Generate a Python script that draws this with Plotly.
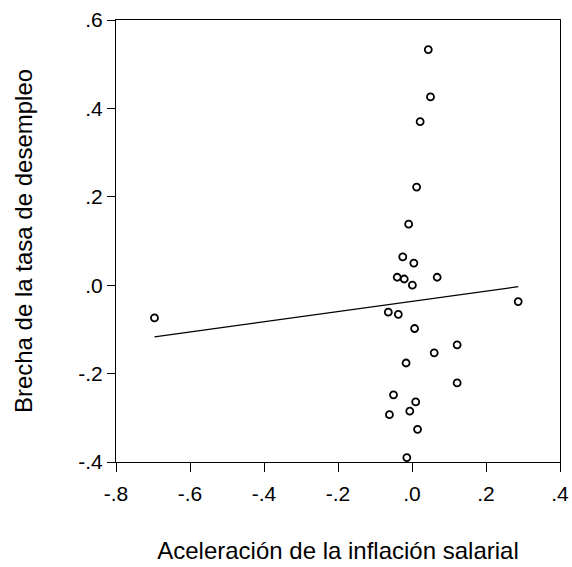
import numpy as np
import plotly.graph_objects as go

# Data
inflation_accel = [0.044, 0.050, 0.022, 0.0125, -0.009, -0.025, 0.005, -0.040, -0.021,
                   0.001, 0.068, 0.287, -0.696, -0.064, -0.037, 0.007, 0.122, 0.060,
                   -0.016, 0.122, -0.050, 0.010, -0.006, -0.061, 0.015, -0.014]
unemp_gap = [0.533, 0.426, 0.370, 0.222, 0.138, 0.064, 0.050, 0.018, 0.014,
             0.000, 0.018, -0.037, -0.074, -0.061, -0.066, -0.098, -0.135, -0.153,
             -0.176, -0.221, -0.248, -0.264, -0.285, -0.293, -0.326, -0.390]

x_tickvals = [-0.8, -0.6, -0.4, -0.2, 0.0, 0.2, 0.4]
x_ticktext = ["-.8", "-.6", "-.4", "-.2", ".0", ".2", ".4"]
y_tickvals = [-0.4, -0.2, 0.0, 0.2, 0.4, 0.6]
y_ticktext = ["-.4", "-.2", ".0", ".2", ".4", ".6"]

x = np.array(inflation_accel)
y = np.array(unemp_gap)
slope, intercept = np.polyfit(x, y, 1)
fit_x = np.array([x.min(), x.max()])
fit_y = intercept + slope * fit_x

fig = go.Figure()
fig.add_trace(go.Scatter(
    x=inflation_accel, y=unemp_gap, mode="markers",
    marker=dict(symbol="circle-open", size=7, color="black", line=dict(width=1.8, color="black")),
    showlegend=False, hoverinfo="x+y"))
fig.add_trace(go.Scatter(
    x=fit_x, y=fit_y, mode="lines",
    line=dict(color="black", width=1.3), showlegend=False))

font_family = "Liberation Sans, Arial, sans-serif"
fig.update_layout(
    width=572, height=567,
    margin=dict(l=116, r=12, t=20, b=105),
    paper_bgcolor="white", plot_bgcolor="white",
    font=dict(family=font_family, size=21, color="black"),
    xaxis=dict(
        range=[-0.8, 0.4], tickvals=x_tickvals, ticktext=x_ticktext,
        showgrid=False, zeroline=False, showline=True, linecolor="black", linewidth=1,
        mirror=True, ticks="outside", ticklen=9, tickwidth=1, tickcolor="black",
        tickfont=dict(size=21), automargin=False, ticklabelstandoff=4,
        title=dict(text="Aceleración de la inflación salarial", font=dict(size=24), standoff=37),
    ),
    yaxis=dict(
        range=[-0.4, 0.6], tickvals=y_tickvals, ticktext=y_ticktext,
        showgrid=False, zeroline=False, showline=True, linecolor="black", linewidth=1,
        mirror=True, ticks="outside", ticklen=8, tickwidth=1, tickcolor="black",
        tickfont=dict(size=21), automargin=False,
        title=dict(text="Brecha de la tasa de desempleo", font=dict(size=24), standoff=38),
    ),
)
fig.write_html(
    "out.html",
    config={"displayModeBar": False},
    post_script="document.body.style.margin='0';document.body.style.overflow='hidden';",
)
